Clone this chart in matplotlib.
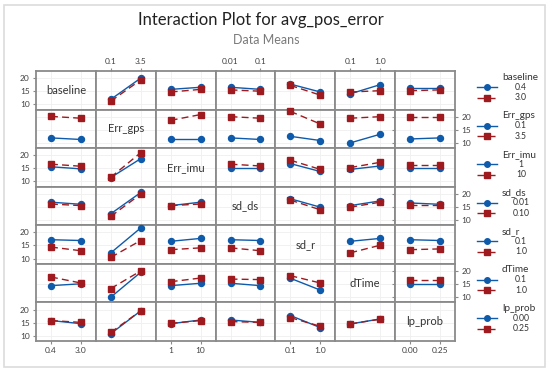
import matplotlib.pyplot as plt
from matplotlib.lines import Line2D
from matplotlib.patches import Rectangle

plt.rcParams['font.family'] = ['Lato', 'DejaVu Sans']

factors = ["baseline", "Err_gps", "Err_imu", "sd_ds", "sd_r", "dTime", "lp_prob"]
axis_levels = [["0.4", "3.0"], ["0.1", "3.5"], ["1", "10"], ["0.01", "0.1"],
               ["0.1", "1.0"], ["0.1", "1.0"], ["0.00", "0.25"]]
legend_levels = [["0.4", "3.0"], ["0.1", "3.5"], ["1", "10"], ["0.01", "0.10"],
                 ["0.1", "1.0"], ["0.1", "1.0"], ["0.00", "0.25"]]

# mean avg_pos_error: row factor at low level (lo) / high level (hi), one pair per column factor
baseline_lo = [None, [11.9, 20.0], [15.7, 16.5], [16.5, 15.7], [17.7, 14.7], [14.0, 17.5], [16.2, 16.2]]
baseline_hi = [None, [11.2, 19.3], [14.7, 15.7], [15.5, 15.0], [17.2, 13.5], [14.7, 15.2], [15.2, 15.5]]
err_gps_lo = [[11.9, 11.3], None, [11.5, 11.5], [11.9, 11.3], [12.5, 10.9], [10.0, 13.3], [11.5, 11.9]]
err_gps_hi = [[20.1, 19.4], None, [18.6, 20.8], [20.0, 19.4], [22.0, 17.2], [19.4, 20.0], [19.7, 19.7]]
err_imu_lo = [[15.6, 14.8], [11.5, 18.7], None, [15.1, 15.1], [16.8, 13.8], [14.6, 15.9], [15.1, 15.1]]
err_imu_hi = [[16.6, 15.8], [11.6, 21.0], None, [16.6, 15.9], [18.1, 14.6], [15.3, 17.3], [16.2, 16.2]]
sd_ds_lo = [[16.8, 16.0], [12.4, 20.5], [15.5, 16.8], None, [18.1, 14.9], [15.5, 17.3], [16.5, 16.0]]
sd_ds_hi = [[16.1, 15.5], [11.4, 19.9], [15.5, 16.1], None, [17.6, 13.9], [14.9, 16.8], [15.8, 15.8]]
sd_r_lo = [[17.2, 16.9], [12.2, 21.7], [16.6, 17.7], [17.2, 16.9], None, [16.6, 17.7], [17.2, 16.9]]
sd_r_hi = [[14.4, 13.0], [10.5, 16.9], [13.4, 14.1], [14.1, 13.0], None, [12.2, 15.1], [13.4, 13.7]]
dtime_lo = [[14.4, 15.1], [10.0, 19.5], [14.4, 15.3], [15.3, 14.4], [17.2, 12.7], None, [15.0, 15.0]]
dtime_hi = [[17.7, 15.4], [13.3, 20.0], [15.9, 17.3], [16.9, 16.7], [18.2, 15.4], None, [16.7, 16.7]]
lp_prob_lo = [[15.8, 14.6], [10.8, 19.5], [14.6, 16.0], [16.0, 15.1], [17.7, 13.1], [14.5, 16.4], None]
lp_prob_hi = [[15.8, 15.1], [11.3, 19.5], [14.7, 15.8], [15.4, 15.1], [16.9, 13.6], [14.5, 16.3], None]

lo_means = [baseline_lo, err_gps_lo, err_imu_lo, sd_ds_lo, sd_r_lo, dtime_lo, lp_prob_lo]
hi_means = [baseline_hi, err_gps_hi, err_imu_hi, sd_ds_hi, sd_r_hi, dtime_hi, lp_prob_hi]
y_ticks = [10, 15, 20]

blue = '#0e5aab'
red = '#9e1a1e'
edge = '#8a8a8a'
txt = '#404040'

W, H = 550, 373
fig = plt.figure(figsize=(W / 100, H / 100), dpi=100)
fig.add_artist(Rectangle((4 / W, 6 / H), 541 / W, 362 / H, transform=fig.transFigure,
                         fill=False, ec='#dcdcdc', lw=1.2))

fig.text(261 / W, 1 - 20 / H, "Interaction Plot for avg_pos_error", ha='center', va='center',
         fontsize=12, color='#222222')
fig.text(266 / W, 1 - 40 / H, "Data Means", ha='center', va='center', fontsize=9, color='#7a7a7a')

left, right, top, bottom = 36, 455, 71, 341
n = len(factors)
cw = (right - left) / n
rh = (bottom - top) / n

for i in range(n):
    for j in range(n):
        ax = fig.add_axes([(left + j * cw) / W, 1 - (top + (i + 1) * rh) / H, cw / W, rh / H])
        ax.set_xlim(-0.5, 1.5)
        ax.set_ylim(8.0, 22.7)
        for s in ax.spines.values():
            s.set_color(edge)
            s.set_linewidth(1.3)
        ax.set_xticks([0, 1])
        ax.set_yticks(y_ticks)
        ax.grid(True, color='#efefef', lw=0.6)
        ax.set_axisbelow(True)
        ax.tick_params(length=0, labelbottom=False, labelleft=False, labelsize=6,
                       colors=txt, pad=2)
        if i == j:
            ax.text(0.5, 0.5, factors[i], transform=ax.transAxes, ha='center', va='center',
                    fontsize=8, color='#333333')
        else:
            ax.plot([0, 1], lo_means[i][j], color=blue, lw=1.0, marker='o', ms=4.3,
                    clip_on=False, zorder=3)
            ax.plot([0, 1], hi_means[i][j], color=red, lw=1.0, ls=(0, (5, 3)), marker='s', ms=4.3,
                    clip_on=False, zorder=4)
        if j == 0 and i % 2 == 0:
            ax.tick_params(axis='y', left=True, labelleft=True, length=2.5, color=edge)
        if j == n - 1 and i % 2 == 1:
            ax.tick_params(axis='y', right=True, labelright=True, length=2.5, color=edge)
        if i == 0 and j % 2 == 1:
            ax.tick_params(axis='x', top=True, labeltop=True, length=2.5, color=edge)
            ax.set_xticklabels(axis_levels[j])
        if i == n - 1 and j % 2 == 0:
            ax.tick_params(axis='x', bottom=True, labelbottom=True, length=2.5, color=edge)
            ax.set_xticklabels(axis_levels[j])

# legend blocks, one per row factor
for i in range(n):
    y0 = top + i * rh
    fig.text(502 / W, 1 - (y0 + 6) / H, factors[i], ha='left', va='center', fontsize=7.2,
             color='#333333')
    for k, (col, ls, mk) in enumerate([(blue, '-', 'o'), (red, (0, (5, 3)), 's')]):
        yy = 1 - (y0 + 16 + k * 10.5) / H
        fig.add_artist(Line2D([477 / W, 497 / W], [yy, yy], transform=fig.transFigure,
                              color=col, lw=1.0, ls=ls))
        fig.add_artist(Line2D([487 / W], [yy], transform=fig.transFigure, color=col,
                              marker=mk, ms=4))
        fig.text(521 / W, yy, legend_levels[i][k], ha='center', va='center', fontsize=6.2,
                 color='#333333')

fig.savefig('out.png', dpi=100)
